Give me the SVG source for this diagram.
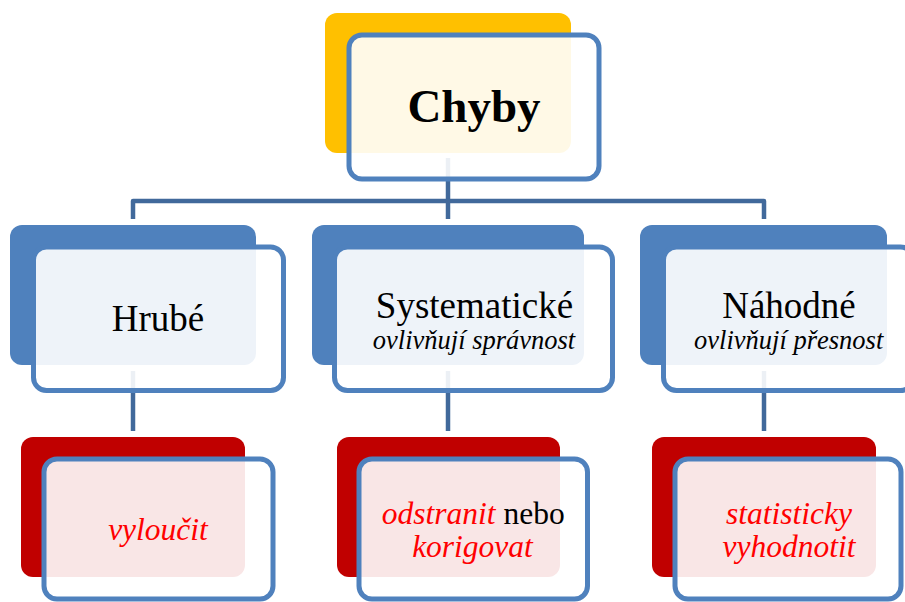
<svg xmlns="http://www.w3.org/2000/svg" width="905" height="602" viewBox="0 0 905 602">
<style>
.front{fill:#ffffff;fill-opacity:0.9;stroke:#4F81BD;stroke-width:5}
.gold{fill:#FFC000}
.blue{fill:#4F81BD}
.red{fill:#C00000}
.conn{fill:none;stroke:#41699B;stroke-width:4.5;stroke-linejoin:round}
text{font-family:"Liberation Serif","Times New Roman",serif;text-anchor:middle}
.t2{font-size:37px;fill:#000}
.sub{font-size:26.5px;font-style:italic;fill:#000}
.t3{font-size:31.5px;font-style:italic;fill:#FF0000}
</style>
<rect width="905" height="602" fill="#ffffff"/>
<g id="connectors">
<path class="conn" d="M448,158 V201"/>
<path class="conn" d="M133,219 V201 H764 V219"/>
<path class="conn" d="M448,201 V219"/>
<path class="conn" d="M133,371 V431"/>
<path class="conn" d="M448,371 V431"/>
<path class="conn" d="M764,371 V431"/>
</g>
<g id="chyby">
<rect class="gold" x="325" y="13" width="246" height="140" rx="12"/>
<rect class="front" x="349" y="35" width="250" height="144" rx="13"/>
<text x="474" y="122" style="font-size:47px;font-weight:bold">Chyby</text>
</g>
<g id="hrube">
<rect class="blue" x="10" y="225" width="246" height="140" rx="12"/>
<rect class="front" x="33.5" y="247" width="250" height="143.5" rx="13"/>
<text class="t2" x="158" y="331">Hrubé</text>
</g>
<g id="systematicke">
<rect class="blue" x="312" y="225" width="272" height="140" rx="12"/>
<rect class="front" x="334.5" y="247" width="278" height="143.5" rx="13"/>
<text class="t2" x="474.5" y="318">Systematické</text>
<text class="sub" x="474" y="349">ovlivňují správnost</text>
</g>
<g id="nahodne">
<rect class="blue" x="640" y="225" width="247" height="140" rx="12"/>
<rect class="front" x="663.5" y="247" width="250" height="143.5" rx="13"/>
<text class="t2" x="789" y="318">Náhodné</text>
<text class="sub" x="788.7" y="349">ovlivňují přesnost</text>
</g>
<g id="vyloucit">
<rect class="red" x="21" y="437" width="224" height="140" rx="12"/>
<rect class="front" x="44" y="459" width="229" height="140" rx="13"/>
<text class="t3" x="158" y="539.5">vyloučit</text>
</g>
<g id="odstranit">
<rect class="red" x="337" y="437" width="223" height="140" rx="12"/>
<rect class="front" x="359" y="459" width="228.5" height="140" rx="13"/>
<text class="t3" x="473.3" y="524">odstranit <tspan style="font-style:normal;fill:#000">nebo</tspan></text>
<text class="t3" x="472.5" y="556.7">korigovat</text>
</g>
<g id="statisticky">
<rect class="red" x="652" y="437" width="224" height="140" rx="12"/>
<rect class="front" x="675" y="459" width="226" height="140" rx="13"/>
<text class="t3" x="789" y="524">statisticky</text>
<text class="t3" x="789" y="556.7">vyhodnotit</text>
</g>
</svg>
